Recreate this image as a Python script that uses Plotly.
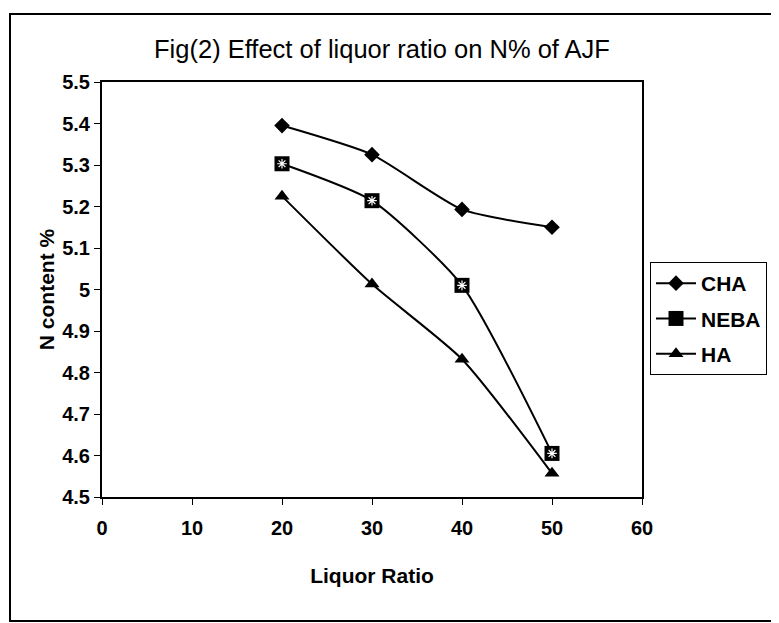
import plotly.graph_objects as go

liquor_ratio = [20, 30, 40, 50]
cha = [5.395, 5.325, 5.193, 5.150]
neba = [5.303, 5.214, 5.010, 4.605]
ha = [5.225, 5.013, 4.832, 4.557]

y_ticks = [4.5, 4.6, 4.7, 4.8, 4.9, 5.0, 5.1, 5.2, 5.3, 5.4, 5.5]
y_tick_labels = ["4.5", "4.6", "4.7", "4.8", "4.9", "5", "5.1", "5.2", "5.3", "5.4", "5.5"]
x_ticks = [0, 10, 20, 30, 40, 50, 60]

font_family = "Liberation Sans, Arial, sans-serif"
OFF = 8  # default page body margin

fig = go.Figure()
line_style = dict(color="black", width=2, shape="spline", smoothing=0.6)

fig.add_trace(go.Scatter(x=liquor_ratio, y=cha, name="CHA", mode="lines+markers",
                         legendgroup="cha", line=line_style,
                         marker=dict(symbol="diamond", size=12, color="black")))
fig.add_trace(go.Scatter(x=liquor_ratio, y=neba, name="NEBA", mode="lines+markers",
                         legendgroup="neba", line=line_style,
                         marker=dict(symbol="square", size=15, color="black")))
fig.add_trace(go.Scatter(x=liquor_ratio, y=neba, name="NEBA", mode="markers",
                         legendgroup="neba", showlegend=False, hoverinfo="skip",
                         marker=dict(symbol="asterisk-open", size=8, color="white",
                                     line=dict(color="white", width=1.2))))
fig.add_trace(go.Scatter(x=liquor_ratio, y=ha, name="HA", mode="lines+markers",
                         legendgroup="ha", line=line_style,
                         marker=dict(symbol="triangle-up", size=13, color="black")))

W, H = 779, 623
# plot area in page px: left 102, right 642, top 82, bottom 497
PL, PR, PT, PB = 102, 642, 82, 497
pw, ph = PR - PL, PB - PT
l = PL - OFF
t = PT - OFF
r = W - l - pw
b = H - t - ph


def px_x(p):
    return (p - PL) / pw


def px_y(p):
    return (PB - p) / ph


fig.add_shape(type="rect", xref="paper", yref="paper",
              x0=px_x(10), x1=px_x(776), y0=px_y(621), y1=px_y(14),
              line=dict(color="black", width=2), fillcolor="rgba(0,0,0,0)",
              layer="below")

bold = dict(family=font_family, color="black", weight="bold")

fig.update_layout(
    width=W, height=H,
    margin=dict(l=l, r=r, t=t, b=b),
    paper_bgcolor="white", plot_bgcolor="white",
    font=dict(family=font_family, color="black", size=20),
    title=dict(text="Fig(2) Effect of liquor ratio on N% of AJF",
               xref="container", x=(382 - OFF) / W, xanchor="center",
               yref="container", y=1 - (49 - OFF) / H, yanchor="middle",
               font=dict(size=25.5, family=font_family, color="black")),
    xaxis=dict(range=[0, 60], tickvals=x_ticks, ticks="outside", ticklen=6,
               tickwidth=1, tickcolor="black", showline=True, linecolor="black",
               linewidth=2, mirror=True, showgrid=False, zeroline=False,
               ticklabelstandoff=6,
               tickfont=dict(size=20, **bold),
               title=dict(text="Liquor Ratio", font=dict(size=21, **bold), standoff=30)),
    yaxis=dict(range=[4.5, 5.5], tickvals=y_ticks, ticktext=y_tick_labels,
               ticks="outside", ticklen=6, tickwidth=1, tickcolor="black",
               showline=True, linecolor="black", linewidth=2, mirror=True,
               showgrid=False, zeroline=False, tickfont=dict(size=20, **bold),
               title=dict(text="N content %", font=dict(size=21, **bold), standoff=2)),
    legend=dict(x=px_x(650), xanchor="left", y=px_y(262), yanchor="top",
                bordercolor="black", borderwidth=1, bgcolor="white",
                font=dict(size=21, **bold), tracegroupgap=5, itemwidth=40,
                traceorder="grouped"),
    showlegend=True,
)

fig.write_html("out.html")
